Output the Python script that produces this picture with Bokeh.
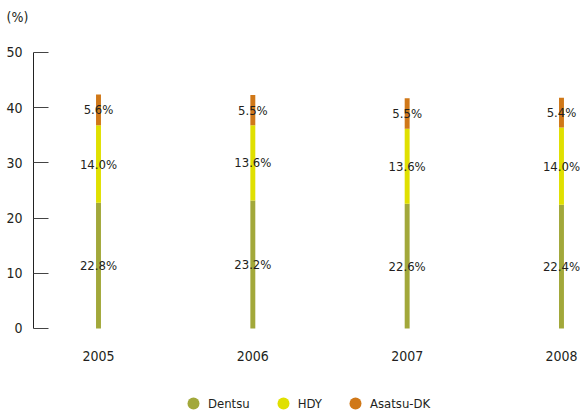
from bokeh.plotting import figure
from bokeh.models import ColumnDataSource, FixedTicker, Range1d, Legend, LegendItem, Label
from bokeh.core.properties import value
from bokeh.embed import file_html
from bokeh.resources import INLINE

# ---- data ----
years = ["2005", "2006", "2007", "2008"]
dentsu = [22.8, 23.2, 22.6, 22.4]
hdy = [14.0, 13.6, 13.6, 14.0]
adk = [5.6, 5.5, 5.5, 5.4]
series_names = ["Dentsu", "HDY", "Asatsu-DK"]
y_ticks = [0, 10, 20, 30, 40, 50]

colors = ["#a2a83a", "#e0e000", "#d07818"]
FONT = "DejaVu Sans Condensed"
TEXT_COLOR = "#231f20"

xpos = list(range(len(years)))
src = ColumnDataSource(dict(x=xpos, Dentsu=dentsu, HDY=hdy, ADK=adk))

p = figure(width=580, height=414, output_backend="svg", toolbar_location=None,
           x_range=Range1d(-0.635, 3.1232), y_range=Range1d(-15.58, 59.42),
           min_border_left=0, min_border_right=0, min_border_top=0, min_border_bottom=0)
p.outline_line_color = None
p.xgrid.visible = False
p.ygrid.visible = False
p.background_fill_color = "white"
p.border_fill_color = "white"

p.vbar_stack(["Dentsu", "HDY", "ADK"], x="x", width=0.032,
             color=colors, source=src, line_color=None)

# value labels at the middle of each segment
lx, ly, lt = [], [], []
for i in range(len(years)):
    base = 0.0
    for vals in (dentsu, hdy, adk):
        v = vals[i]
        lx.append(xpos[i])
        ly.append(base + v / 2)
        lt.append(f"{v:.1f}%")
        base += v
p.text(x=lx, y=ly, text=lt, text_align="center", text_baseline="middle",
       text_font=value(FONT), text_font_size="13px", text_color=TEXT_COLOR)

# y axis (drawn at a fixed x position, only between 0 and 50)
yax = p.yaxis[0]
yax.fixed_location = -0.4212
yax.ticker = FixedTicker(ticks=y_ticks)
yax.bounds = (0, 50)
yax.major_tick_in = 15
yax.major_tick_out = 0
yax.minor_tick_line_color = None
yax.axis_line_color = "#222222"
yax.major_tick_line_color = "#444444"
yax.major_label_text_font = FONT
yax.major_label_text_font_size = "14px"
yax.major_label_text_color = TEXT_COLOR
yax.major_label_standoff = 11

# x axis drawn at y = 0, labels only
xax = p.xaxis[0]
xax.fixed_location = 0
xax.ticker = FixedTicker(ticks=xpos)
xax.major_label_overrides = {i: y for i, y in zip(xpos, years)}
xax.axis_line_color = None
xax.major_tick_line_color = None
xax.minor_tick_line_color = None
xax.major_label_text_font = FONT
xax.major_label_text_font_size = "14px"
xax.major_label_text_color = TEXT_COLOR
xax.major_label_standoff = 17

# unit label "(%)"
p.add_layout(Label(x=6, y=398, x_units="screen", y_units="screen", text="(%)",
                   text_font=FONT, text_font_size="14px", text_color=TEXT_COLOR,
                   text_baseline="middle", text_align="left"))

# legend with circle markers
items = []
for name, c in zip(series_names, colors):
    r = p.scatter(x=[float("nan")], y=[float("nan")], marker="circle", size=14,
                  color=c, line_color=None)
    items.append(LegendItem(label=name, renderers=[r]))
legend = Legend(items=items, orientation="horizontal", location=(178, -4),
                glyph_width=30, glyph_height=30, label_standoff=0, spacing=18,
                padding=0, margin=0, border_line_color=None, background_fill_alpha=0,
                label_text_font=FONT, label_text_font_size="13px",
                label_text_color=TEXT_COLOR)
p.add_layout(legend, "center")

open("out.html", "w").write(file_html(p, INLINE))
